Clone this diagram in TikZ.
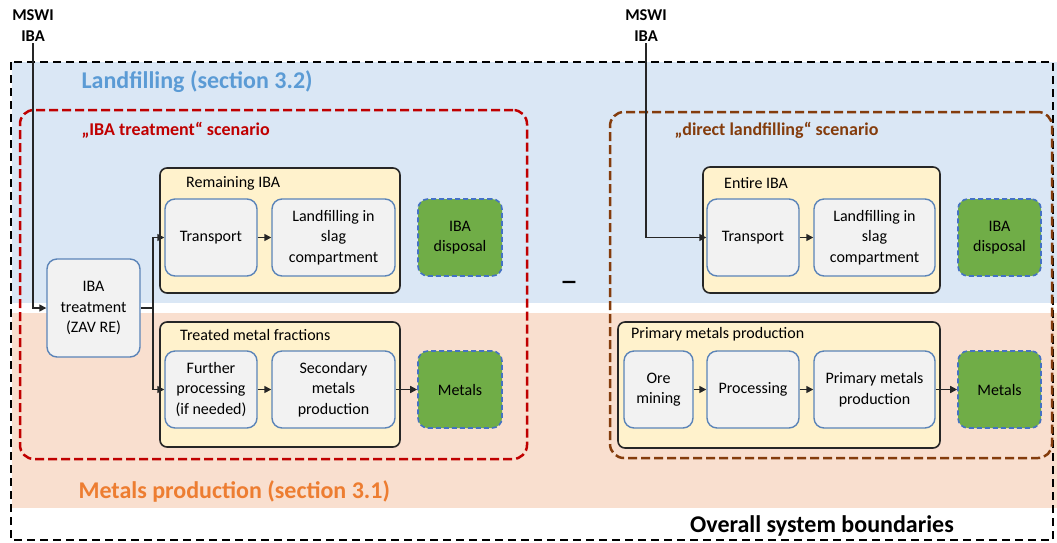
\documentclass[tikz,border=0pt]{standalone}
\usepackage{fontspec}
\setmainfont{Carlito}
\usepackage{xcolor}
\usetikzlibrary{arrows.meta,positioning,calc}

\definecolor{bluebg}{HTML}{DAE7F5}
\definecolor{peachbg}{HTML}{F9DFCF}
\definecolor{grpfill}{HTML}{FFF2CC}
\definecolor{grpline}{HTML}{262626}
\definecolor{procfill}{HTML}{F2F2F2}
\definecolor{procline}{HTML}{5B84B8}
\definecolor{prodfill}{HTML}{70AD47}
\definecolor{prodline}{HTML}{4472C4}
\definecolor{scenred}{HTML}{C00000}
\definecolor{scenbrown}{HTML}{843C0C}
\definecolor{landblue}{HTML}{5B9BD5}
\definecolor{metorange}{HTML}{ED7D31}

\tikzset{
  proc/.style={draw=procline, fill=procfill, rounded corners=10pt, line width=1.4pt, align=center, inner sep=2pt},
  grp/.style={draw=grpline, fill=grpfill, rounded corners=7pt, line width=1.6pt},
  prod/.style={draw=prodline, fill=prodfill, dash pattern=on 5pt off 3pt, rounded corners=10pt, line width=1.6pt, align=center},
  scen/.style={dash pattern=on 9pt off 4pt, line width=2.5pt, rounded corners=14pt},
  arr/.style={-{Triangle[length=7pt,width=7pt]}, line width=1.4pt, black!85},
  sect/.style={font=\fontsize{24}{28}\selectfont\bfseries},
  ttl/.style={font=\fontsize{18}{22}\selectfont\bfseries},
  grplabel/.style={anchor=west, inner sep=0pt},
}

\begin{document}
\begin{tikzpicture}[x=1pt, y=-1pt, every node/.style={font=\fontsize{16}{20.5}\selectfont}]
  \useasboundingbox (0,0) rectangle (1057,542);

  % Sections
  \fill[bluebg] (12,62) rectangle (1057,303);
  \fill[peachbg] (12,313) rectangle (1057,508);
  \draw[line width=2pt, dash pattern=on 8pt off 5pt] (11,62) rectangle (1053,540);
  \node[sect, text=landblue, anchor=west] (landtitle) at (78,82) {Landfilling (section 3.2)};
  \node[sect, text=metorange, anchor=west] (mettitle) at (75,491) {Metals production (section 3.1)};
  \node[sect] (overall) at (822,526) {Overall system boundaries};

  % "IBA treatment" scenario
  \node[scen, draw=scenred, minimum width=507, minimum height=349] (scen1) at (273.5,284.5) {};
  \node[ttl, text=scenred, anchor=west] (scen1title) at (78,130) {„IBA treatment“ scenario};
  \node[grp, minimum width=240, minimum height=125] (remg) at (280,230.5) {};
  \node[grp, minimum width=240, minimum height=125] (tmfg) at (280,384.5) {};
  \node[grplabel] (remlabel) at (186,183) {Remaining IBA};
  \node[grplabel] (tmflabel) at (180,335) {Treated metal fractions};
  \node[proc, minimum width=93, minimum height=98] (ibat) at (93.5,308) {IBA\\treatment\\(ZAV RE)};
  \node[proc, minimum width=92, minimum height=77] (tr1) at (211,237.5) {Transport};
  \node[proc, minimum width=123, minimum height=77] (lf1) at (333.5,237.5) {Landfilling in\\slag\\compartment};
  \node[proc, minimum width=92, minimum height=77] (fp1) at (211,389.5) {Further\\processing\\(if needed)};
  \node[proc, minimum width=123, minimum height=77] (sm1) at (333.5,389.5) {Secondary\\metals\\production};
  \node[prod, minimum width=84, minimum height=77] (disp1) at (460,237.5) {IBA\\disposal};
  \node[prod, minimum width=84, minimum height=77] (met1) at (460,389.5) {Metals};

  % "direct landfilling" scenario
  \node[scen, draw=scenbrown, minimum width=442, minimum height=346] (scen2) at (831,285) {};
  \node[ttl, text=scenbrown, anchor=west] (scen2title) at (671,130) {„direct landfilling“ scenario};
  \node[grp, minimum width=237, minimum height=126] (entg) at (821.5,230) {};
  \node[grp, minimum width=322, minimum height=126] (pmg) at (779,385) {};
  \node[grplabel] (entlabel) at (724,183) {Entire IBA};
  \node[grplabel] (pmlabel) at (631,334) {Primary metals production};
  \node[proc, minimum width=92, minimum height=77] (tr2) at (753,237.5) {Transport};
  \node[proc, minimum width=121, minimum height=77] (lf2) at (874.5,237.5) {Landfilling in\\slag\\compartment};
  \node[proc, minimum width=69, minimum height=77] (om2) at (658.5,389.5) {Ore\\mining};
  \node[proc, minimum width=92, minimum height=77] (pr2) at (753,389.5) {Processing};
  \node[proc, minimum width=121, minimum height=77] (pm2) at (874.5,389.5) {Primary metals\\production};
  \node[prod, minimum width=83, minimum height=77] (disp2) at (999.5,237.5) {IBA\\disposal};
  \node[prod, minimum width=83, minimum height=77] (met2) at (999.5,389.5) {Metals};

  \node[font=\fontsize{36}{40}\selectfont] (minus) at (569,287) {–};

  % Inputs
  \node[align=center, font=\fontsize{16.5}{21}\selectfont\bfseries, inner sep=1pt] (in1) at (33,26) {MSWI\\IBA};
  \node[align=center, font=\fontsize{16.5}{21}\selectfont\bfseries, inner sep=1pt] (in2) at (646,26) {MSWI\\IBA};

  % Arrows
  \coordinate (split) at (153,308);
  \draw[arr] (in1.south) |- (ibat.west);
  \draw[line width=1.4pt, black!85] (ibat.east) -- (split);
  \draw[arr] (split) |- (tr1.west);
  \draw[arr] (split) |- (fp1.west);
  \draw[arr] (tr1) -- (lf1);
  \draw[arr] (fp1) -- (sm1);
  \draw[arr] (sm1) -- (met1);
  \draw[arr] (in2.south) |- (tr2.west);
  \draw[arr] (tr2) -- (lf2);
  \draw[arr] (om2) -- (pr2);
  \draw[arr] (pr2) -- (pm2);
  \draw[arr] (pm2) -- (met2);
\end{tikzpicture}
\end{document}
